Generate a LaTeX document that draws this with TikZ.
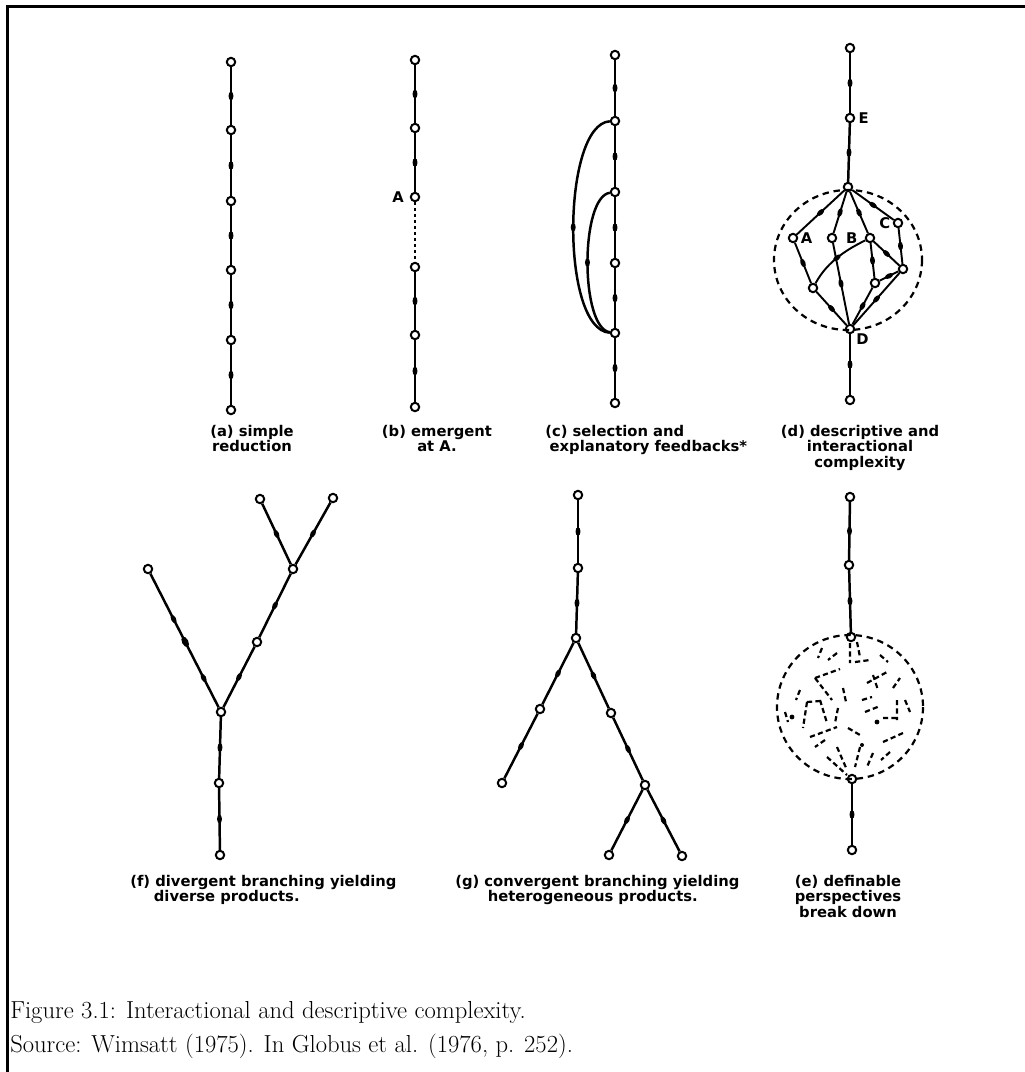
\documentclass[tikz,border=0pt]{standalone}
\usepackage{fontspec}
\usepackage{tikz}
\usetikzlibrary{positioning, decorations.markings}
\newfontfamily\handfont{DejaVu Sans}

\begin{document}
\begin{tikzpicture}[
    x=0.25mm, y=-0.25mm,
    vtx/.style={circle, draw=black, fill=white, line width=0.5mm, inner sep=0pt, minimum size=2.1mm},
    lnk/.style={draw=black, line width=0.62mm},
    fwd/.style={lnk, postaction={decorate}, decoration={markings,
                mark=at position 0.5 with {\fill (0,0) ellipse (1.1mm and 0.62mm);}}},
    fwdthree/.style={lnk, postaction={decorate}, decoration={markings,
                mark=at position 0.22 with {\fill (0,0) ellipse (1.1mm and 0.62mm);},
                mark=at position 0.49 with {\fill (0,0) ellipse (1.4mm and 0.8mm);},
                mark=at position 0.66 with {\fill (0,0) ellipse (1.1mm and 0.62mm);}}},
    inr/.style={fwd, line width=0.48mm},
    broken/.style={lnk, dash pattern=on 0.6mm off 0.9mm},
    ring/.style={draw=black, line width=0.55mm, dash pattern=on 1.6mm off 1.2mm},
    scrap/.style={draw=black, line width=0.55mm, dash pattern=on 1.3mm off 0.8mm},
    tag/.style={font=\handfont\bfseries\fontsize{10.5}{11}\selectfont, inner sep=0pt},
    lbl/.style={font=\handfont\bfseries\fontsize{10.5}{11}\selectfont, inner sep=0pt},
    captxt/.style={font=\fontsize{17.5}{20}\selectfont, anchor=base west, inner sep=0pt}
]
\useasboundingbox (0,0) rectangle (1025,1072);
\draw[line width=0.75mm] (7,1072) -- (7,6) -- (1025,6);

% (a)
\foreach \i/\y in {1/62,2/130,3/201,4/270,5/340,6/410}
    \node[vtx] (a\i) at (231,\y) {};
\foreach \i [count=\j from 2] in {1,...,5}
    \draw[fwd] (a\i) -- (a\j);
\node[lbl, anchor=north, align=center] (la) at (252,425) {(a) simple\\reduction};

% (b)
\foreach \i/\y in {1/60,2/128,3/197,4/267,5/335,6/407}
    \node[vtx] (b\i) at (415,\y) {};
\draw[fwd] (b1) -- (b2);
\draw[fwd] (b2) -- (b3);
\draw[broken] (b3) -- (b4);
\draw[fwd] (b4) -- (b5);
\draw[fwd] (b5) -- (b6);
\node[tag, left=1.4mm of b3] (tA) {A};
\node[lbl, anchor=north, align=center] (lb) at (437,425) {(b) emergent\\at A.};

% (c)
\foreach \i/\y in {1/55,2/121,3/192,4/263,5/333,6/403}
    \node[vtx] (c\i) at (615,\y) {};
\foreach \i [count=\j from 2] in {1,...,5}
    \draw[fwd] (c\i) -- (c\j);
\draw[fwd] (c2) .. controls (562,124) and (560,330) .. (c5);
\draw[fwd] (c3) .. controls (580,197) and (580,328) .. (c5);
\node[lbl, anchor=north west, align=left] (lc) at (545,425) {(c) selection and\\\hspace*{0.3em}explanatory feedbacks*};

% (d)
\node[vtx] (d1) at (850,48) {};
\node[vtx] (dE) at (850,118) {};
\node[vtx] (dH) at (848,187) {};
\node[vtx] (dD) at (850,329) {};
\node[vtx] (d6) at (850,400) {};
\node[vtx] (dA) at (793,238) {};
\node[vtx] (dN) at (832,238) {};
\node[vtx] (dB) at (870,238) {};
\node[vtx] (dC) at (898,223) {};
\node[vtx] (dR) at (903,269) {};
\node[vtx] (dL) at (813,288) {};
\node[vtx] (dM) at (875,283) {};
\draw[ring] (848,260) ellipse (74 and 70);
\draw[fwd] (d1) -- (dE);
\draw[fwd] (dE) -- (dH);
\draw[fwd] (dD) -- (d6);
\draw[inr] (dH) -- (dA);
\draw[inr] (dH) -- (dN);
\draw[inr] (dH) -- (dB);
\draw[inr] (dH) -- (dC);
\draw[inr] (dA) -- (dL);
\draw[inr] (dN) -- (dD);
\draw[inr] (dB) .. controls (850,248) and (828,260) .. (dL);
\draw[inr] (dB) -- (dM);
\draw[inr] (dB) -- (dR);
\draw[inr] (dC) -- (dR);
\draw[inr] (dR) -- (dM);
\draw[inr] (dL) -- (dD);
\draw[inr] (dM) -- (dD);
\draw[inr] (dR) -- (dD);
\node[tag, right=0.8mm of dE] (tE) {E};
\node[tag, right=0.6mm of dA] (tAd) {A};
\node[tag, left=1.8mm of dB] (tB) {B};
\node[tag, left=0.6mm of dC] (tC) {C};
\node[tag, below right=0.2mm and 0.6mm of dD] (tD) {D};
\node[lbl, anchor=north, align=center] (ld) at (860,425) {(d) descriptive and\\interactional\\complexity};

% (f)
\node[vtx] (f1) at (220,855) {};
\node[vtx] (f2) at (219,783) {};
\node[vtx] (f3) at (221,712) {};
\node[vtx] (f4) at (148,569) {};
\node[vtx] (f5) at (257,642) {};
\node[vtx] (f6) at (293,569) {};
\node[vtx] (f7) at (260,499) {};
\node[vtx] (f8) at (333,498) {};
\draw[fwd] (f1) -- (f2);
\draw[fwd] (f2) -- (f3);
\draw[fwdthree] (f3) -- (f4);
\draw[fwd] (f3) -- (f5);
\draw[fwd] (f5) -- (f6);
\draw[fwd] (f6) -- (f7);
\draw[fwd] (f6) -- (f8);
\node[lbl, anchor=north west, align=left] (lf) at (130,875) {(f) divergent branching yielding\\\hspace*{1.6em}diverse products.};

% (g)
\node[vtx] (g1) at (578,495) {};
\node[vtx] (g2) at (578,568) {};
\node[vtx] (g3) at (576,638) {};
\node[vtx] (g4) at (540,709) {};
\node[vtx] (g5) at (502,783) {};
\node[vtx] (g6) at (611,713) {};
\node[vtx] (g7) at (645,785) {};
\node[vtx] (g8) at (609,855) {};
\node[vtx] (g9) at (682,856) {};
\draw[fwd] (g1) -- (g2);
\draw[fwd] (g2) -- (g3);
\draw[fwd] (g3) -- (g4);
\draw[fwd] (g4) -- (g5);
\draw[fwd] (g3) -- (g6);
\draw[fwd] (g6) -- (g7);
\draw[fwd] (g7) -- (g8);
\draw[fwd] (g7) -- (g9);
\node[lbl, anchor=north west, align=left] (lg) at (455,875) {(g) convergent branching yielding\\\hspace*{2.2em}heterogeneous products.};

% (e)
\node[vtx] (e1) at (850,497) {};
\node[vtx] (e2) at (849,565) {};
\node[vtx] (e3) at (851,637) {};
\node[vtx] (e4) at (852,779) {};
\node[vtx] (e5) at (852,850) {};
\draw[fwd] (e1) -- (e2);
\draw[fwd] (e2) -- (e3);
\draw[fwd] (e4) -- (e5);
\draw[ring] (850,707) ellipse (73 and 72);
\draw[scrap] (857,642) -- (860,657) (850,643) -- (850,663) (837,653) -- (828,660)
    (815,678) -- (840,669) (815,678) -- (832,700) (867,683) -- (887,672)
    (873,675) -- (878,690) (807,702) -- (820,701) (807,702) -- (803,728)
    (897,700) -- (897,720) (883,718) -- (897,718) (838,708) -- (835,723)
    (810,737) -- (837,727) (883,742) -- (903,733) (837,747) -- (847,770)
    (860,747) -- (855,767) (873,753) -- (867,767) (827,757) -- (847,775)
    (820,700) -- (827,723) (862,700) -- (872,697) (843,688) -- (846,702)
    (865,712) -- (880,706) (893,688) -- (900,678) (825,740) -- (815,747)
    (890,752) -- (881,760) (800,690) -- (796,700) (855,662) -- (870,660)
    (822,648) -- (818,658) (880,655) -- (888,662) (785,712) -- (788,722)
    (848,728) -- (860,735) (905,700) -- (910,712);
\fill (792,717) circle (0.6mm) (877,722) circle (0.6mm) (862,745) circle (0.5mm);
\node[lbl, anchor=north, align=center] (le) at (848,875) {(e) definable\\perspectives\\break down};

\node[captxt] (fig) at (10,1018) {Figure 3.1: Interactional and descriptive complexity.};
\node[captxt] (src) at (10,1052) {Source: Wimsatt (1975). In Globus et al. (1976, p. 252).};
\end{tikzpicture}
\end{document}
